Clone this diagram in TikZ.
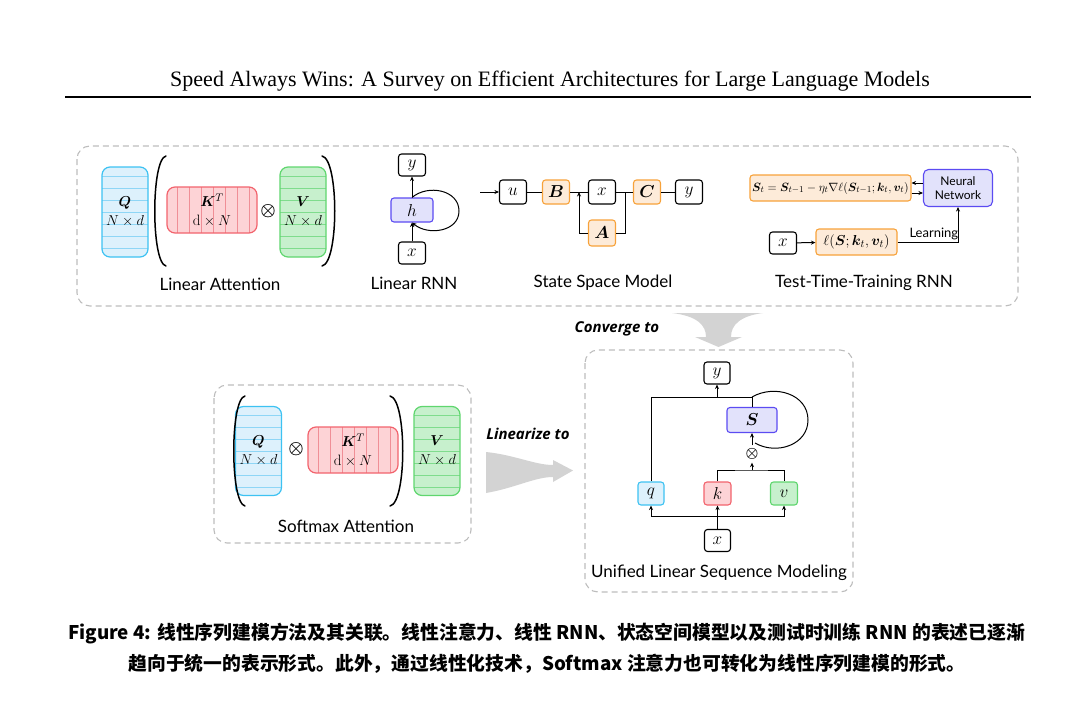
\documentclass[tikz,border=0pt]{standalone}
\usepackage{fontspec}
\usepackage{amsmath,bm}
\usetikzlibrary{arrows.meta,calc}
\newfontfamily\labelfont{Lato}
\newfontfamily\bilabfont{Open Sans}
\newfontfamily\titlefont{Liberation Serif}
\newfontfamily\cjk{Noto Sans CJK SC}
\definecolor{blueD}{HTML}{3DC2F2}\definecolor{blueF}{HTML}{DDF1FC}\definecolor{blueS}{HTML}{8ED6F6}
\definecolor{redD}{HTML}{F2636D}\definecolor{redF}{HTML}{FDD3D6}\definecolor{redS}{HTML}{F08E96}
\definecolor{greenD}{HTML}{5FD66E}\definecolor{greenF}{HTML}{C7F0CD}\definecolor{greenS}{HTML}{7FDC8D}
\definecolor{orangeD}{HTML}{F7A23A}\definecolor{orangeF}{HTML}{FDEBD9}
\definecolor{purpleD}{HTML}{5B4BF2}\definecolor{purpleF}{HTML}{E2E2FB}
\definecolor{grayD}{HTML}{BDBDBD}\definecolor{arrowgray}{HTML}{D3D3D3}
\begin{document}
\begin{tikzpicture}[x=1pt,y=-1pt,
  font=\fontsize{16}{19}\selectfont,
  ln/.style={line width=1pt},
  arr/.style={line width=1pt,-{Stealth[length=4.5pt,width=4pt]}},
  paren/.style={line width=1.5pt,line cap=round},
  group/.style={draw=grayD,dashed,dash pattern=on 6pt off 4pt,line width=1.1pt,rounded corners=13pt},
  sbox/.style={draw=black,fill=white,line width=1.1pt,rounded corners=3pt,minimum width=27pt,minimum height=23pt,inner sep=0pt},
  obox/.style={sbox,draw=orangeD,fill=orangeF},
  pbox/.style={sbox,draw=purpleD,fill=purpleF},
  qbox/.style={sbox,draw=blueD,fill=blueF},
  kbox/.style={sbox,draw=redD,fill=redF},
  vbox/.style={sbox,draw=greenD,fill=greenF},
  hstripes/.style={path picture={\foreach \k in {0,...,6}{\draw[#1,line width=0.7pt]
     ($(path picture bounding box.north west)+(0,9+\k*12)$) -- ($(path picture bounding box.north east)+(0,9+\k*12)$);}}},
  vstripes/.style={path picture={\foreach \k in {0,...,6}{\draw[#1,line width=0.7pt]
     ($(path picture bounding box.north west)+(10+\k*12,0)$) -- ($(path picture bounding box.south west)+(10+\k*12,0)$);}}},
  tall/.style={line width=1.2pt,rounded corners=8pt,minimum width=46pt,minimum height=90pt,inner sep=0pt,align=center,font=\fontsize{15}{21}\selectfont},
  wide/.style={line width=1.2pt,rounded corners=8pt,minimum width=90pt,minimum height=46pt,inner sep=0pt,align=center,font=\fontsize{15}{21}\selectfont},
  lab/.style={font=\labelfont\fontsize{17}{20}\selectfont},
  bilab/.style={font=\bilabfont\bfseries\itshape\fontsize{15}{18}\selectfont},
  otimes/.style={circle,inner sep=0pt,font=\fontsize{17}{17}\selectfont}
]
\useasboundingbox (0,0) rectangle (1080,701);

% title
\node (title) at (550,81) {\titlefont\fontsize{22}{25}\selectfont Speed Always Wins: A Survey on Efficient Architectures for Large Language Models};
\draw[line width=1.5pt] (65,97) -- (1031,97);

% group boxes
\draw[group] (77,146) rectangle (1018,306);
\draw[group] (214,385) rectangle (471,543);
\draw[group] (585,350) rectangle (853,592);

% ---------- Linear attention ----------
\node[tall,draw=blueD,fill=blueF,hstripes=blueS] (LAQ) at (125,212) {$\bm{Q}$\\[-2pt]$N\times d$};
\node[wide,draw=redD,fill=redF,vstripes=redS] (LAK) at (212,210) {$\bm{K}^T$\\[-2pt]$\mathrm{d}\times N$};
\node[tall,draw=greenD,fill=greenF,hstripes=greenS] (LAV) at (303,212) {$\bm{V}$\\[-2pt]$N\times d$};
\node[otimes] (LAo) at (268,211) {$\bm{\otimes}$};
\draw[paren] (166,156) .. controls (151,159) and (151,263) .. (166,266);
\draw[paren] (322,156) .. controls (339,159) and (339,263) .. (322,266);
\node[lab] (LAlab) at (220,284) {Linear Attention};

% ---------- Linear RNN ----------
\node[sbox,minimum height=22pt] (Ry) at (412,165) {$y$};
\node[pbox,minimum width=42pt,minimum height=24pt] (Rh) at (412,210) {$h$};
\node[sbox,minimum height=22pt] (Rx) at (412,253) {$x$};
\draw[arr] (Rx) -- (Rh);
\draw[arr] (Rh) -- (Ry);
\draw[arr] (Rh.north) to[out=40,in=90,looseness=1.1] (459,211) to[out=-90,in=-40,looseness=1.1] (Rh.south);
\node[lab] (Rlab) at (414,283) {Linear RNN};

% ---------- State space model ----------
\coordinate (Sin) at (480,192);
\node[sbox,minimum height=24pt] (Su) at (513,192) {$u$};
\node[obox,minimum height=24pt] (SB) at (556,192) {$\bm{B}$};
\node[sbox,minimum height=24pt] (Sx) at (602,192) {$x$};
\node[obox,minimum height=24pt] (SC) at (647,192) {$\bm{C}$};
\node[sbox,minimum height=24pt] (Sy) at (689,192) {$y$};
\node[obox,minimum height=26pt] (SA) at (602,233) {$\bm{A}$};
\coordinate (Sj1) at (579,192);
\coordinate (Sj2) at (625,192);
\draw[arr] (Sin) -- (Su);
\draw[ln] (Su) -- (SB);
\draw[ln] (SB) -- (Sx);
\draw[ln] (Sx) -- (SC);
\draw[ln] (SC) -- (Sy);
\draw[ln] (Sj2) |- (SA.east);
\draw[arr] (SA.west) -| (Sj1);
\node[lab] (Slab) at (603,283) {State Space Model};

% ---------- TTT RNN ----------
\node[obox,minimum width=161pt,minimum height=26pt,font=\fontsize{12.5}{14}\selectfont] (TF) at (830.5,188)
  {$\bm{S}_t=\bm{S}_{t-1}-\eta_t\nabla\ell(\bm{S}_{t-1};\bm{k}_t,\bm{v}_t)$};
\node[pbox,minimum width=69pt,minimum height=37pt,rounded corners=5pt,align=center,font=\labelfont\fontsize{12}{14}\selectfont] (TN) at (958,188) {Neural\\Network};
\draw[arr] ($(TN.west)+(0,-5)$) -- ($(TF.east)+(0,-5)$);
\draw[arr] ($(TF.east)+(0,5)$) -- ($(TN.west)+(0,5)$);
\node[sbox,minimum height=22pt] (Tx) at (783,243) {$x$};
\node[obox,minimum width=81pt,minimum height=26pt,font=\fontsize{15}{17}\selectfont] (TL) at (856.5,242) {$\ell(\bm{S};\bm{k}_t,\bm{v}_t)$};
\draw[arr] (Tx) -- (TL);
\draw[arr] (TL.east) -| node[pos=0.3,above,font=\labelfont\fontsize{13}{15}\selectfont,inner sep=1.5pt] (Tlearn) {Learning} (TN.south);
\node[lab] (Tlab) at (864,283) {Test-Time-Training RNN};

% ---------- Converge arrow ----------
\fill[arrowgray] (672,313) -- (763,313) .. controls (740,316) and (731,325) .. (731,337) -- (742,337) -- (718.5,347) -- (695,337) -- (706,337) .. controls (706,325) and (697,316) .. (672,313) -- cycle;
\node[bilab] (conv) at (617,329) {Converge to};

% ---------- Softmax attention ----------
\node[tall,draw=blueD,fill=blueF,hstripes=blueS,minimum height=89pt] (SQ) at (258.5,451) {$\bm{Q}$\\[-2pt]$N\times d$};
\node[otimes] (So) at (296,449) {$\bm{\otimes}$};
\node[wide,draw=redD,fill=redF,vstripes=redS] (SK) at (353,450) {$\bm{K}^T$\\[-2pt]$\mathrm{d}\times N$};
\node[tall,draw=greenD,fill=greenF,hstripes=greenS,minimum height=89pt] (SV) at (437,451) {$\bm{V}$\\[-2pt]$N\times d$};
\draw[paren] (245,396) .. controls (230,399) and (230,503) .. (245,506);
\draw[paren] (390,396) .. controls (407,399) and (407,503) .. (390,506);
\node[lab] (SMlab) at (346,526) {Softmax Attention};

% ---------- Linearize arrow ----------
\fill[arrowgray] (486,452) .. controls (515,455) and (535,465) .. (553,465) -- (553,460) -- (573,470.5) -- (553,482) -- (553,477) .. controls (535,477) and (515,488) .. (486,493) -- cycle;
\node[bilab] (lin) at (528,434) {Linearize to};

% ---------- Unified ----------
\node[sbox,minimum width=26pt,minimum height=22pt] (Uy) at (717,373) {$y$};
\node[pbox,minimum width=50pt,minimum height=25pt] (US) at (752,420) {$\bm{S}$};
\node[otimes,font=\fontsize{15}{15}\selectfont] (Uo) at (752,454) {$\bm{\otimes}$};
\node[qbox,minimum width=26pt] (Uq) at (651,493.5) {$q$};
\node[kbox] (Uk) at (717.5,493.5) {$k$};
\node[vbox] (Uv) at (784,493.5) {$v$};
\node[sbox,minimum width=26pt,minimum height=22pt] (Ux) at (717.5,540.5) {$x$};
\coordinate (Uxb) at (717.5,516);
\coordinate (Ukv) at (752,470);
\coordinate (Utop) at (752,397);
\coordinate (Uyb) at (717,397);
\draw[arr] (Ux) -- (Uk);
\draw[arr] (Uxb) -| (Uq.south);
\draw[arr] (Uxb) -| (Uv.south);
\draw[ln] (Uk.north) |- (Ukv) -| (Uv.north);
\draw[arr] (Ukv) -- (Uo);
\draw[arr] (Uo) -- (US);
\draw[ln] (Uq.north) |- (Utop) -- (US.north);
\draw[arr] (Uyb) -- (Uy);
\draw[ln] (Utop) to[out=30,in=90,looseness=1.1] (808,420) to[out=-90,in=-30,looseness=1.1] (755,443);
\node[lab] (Ulab) at (719,573) {Unified Linear Sequence Modeling};

% ---------- caption ----------
\node[anchor=west,inner sep=0pt] (cap1) at (68,634) {\cjk\bfseries\fontsize{18.8}{22}\selectfont Figure 4: 线性序列建模方法及其关联。线性注意力、线性 RNN、状态空间模型以及测试时训练 RNN 的表述已逐渐};
\node[inner sep=0pt] (cap2) at (547,664) {\cjk\bfseries\fontsize{18.8}{22}\selectfont 趋向于统一的表示形式。此外，通过线性化技术，Softmax 注意力也可转化为线性序列建模的形式。};
\end{tikzpicture}
\end{document}
